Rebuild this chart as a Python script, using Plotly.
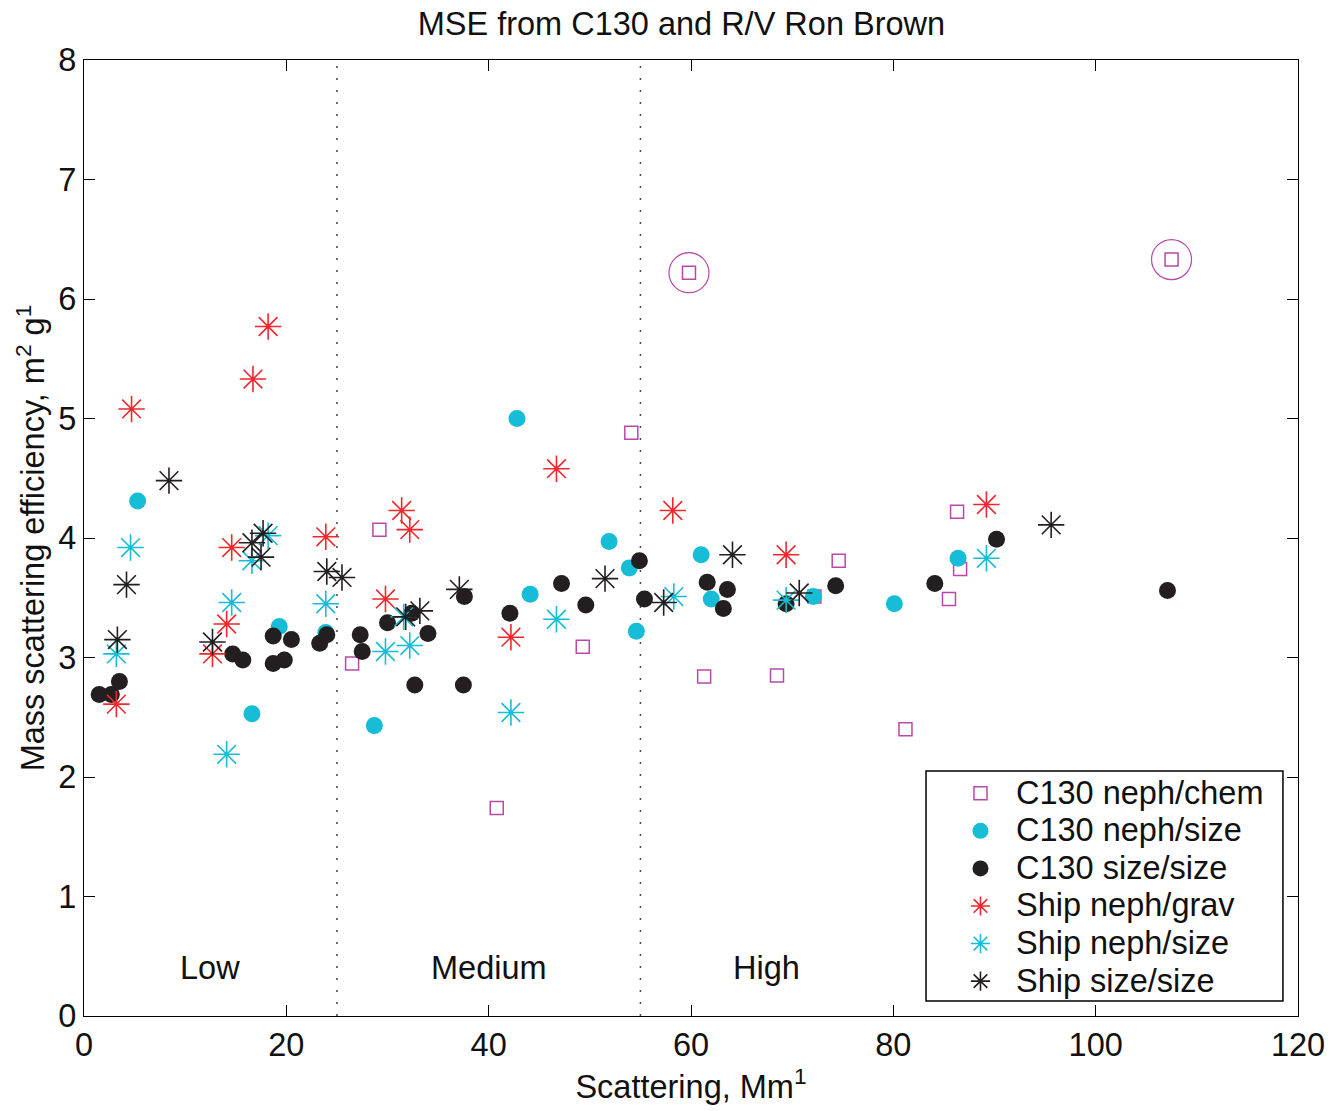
import plotly.graph_objects as go

# C130 neph/chem (open squares)
chem_x = [59.8, 107.5, 54.1, 29.2, 26.5, 40.8, 49.3, 61.3, 68.5, 81.2, 85.5, 86.3, 86.6, 74.6, 72.2]
chem_y = [6.22, 6.33, 4.88, 4.07, 2.95, 1.74, 3.09, 2.84, 2.85, 2.40, 3.49, 4.22, 3.74, 3.81, 3.51]
outlier_idx = [0, 1]

# C130 neph/size (cyan filled circles)
nsz_x = [5.3, 42.8, 16.6, 19.3, 23.9, 28.7, 44.1, 51.9, 53.9, 54.6, 61.0, 62.0, 72.1, 80.1, 86.4]
nsz_y = [4.31, 5.00, 2.53, 3.26, 3.21, 2.43, 3.53, 3.97, 3.75, 3.22, 3.86, 3.49, 3.51, 3.45, 3.83]

# C130 size/size (black filled circles)
ss_x = [1.5, 2.7, 3.5, 14.7, 15.7, 18.7, 20.5, 18.7, 19.8, 23.3, 24.0, 27.3, 27.5, 30.0, 32.4,
        34.0, 32.7, 37.5, 37.6, 42.1, 47.2, 49.6, 54.9, 55.4, 61.6, 63.6, 63.2, 69.4, 74.3, 84.1,
        90.2, 107.1]
ss_y = [2.69, 2.69, 2.80, 3.03, 2.98, 3.18, 3.15, 2.95, 2.98, 3.12, 3.19, 3.19, 3.05, 3.29, 3.37,
        3.20, 2.77, 2.77, 3.51, 3.37, 3.62, 3.44, 3.81, 3.49, 3.63, 3.57, 3.41, 3.45, 3.60, 3.62,
        3.99, 3.56]

# Ship neph/grav (red asterisks)
sg_x = [4.7, 16.7, 18.2, 14.6, 3.2, 14.1, 12.7, 23.9, 31.4, 32.2, 29.8, 42.2, 46.7, 58.2, 69.4, 89.2]
sg_y = [5.08, 5.33, 5.77, 3.92, 2.61, 3.28, 3.03, 4.01, 4.23, 4.07, 3.49, 3.17, 4.58, 4.23, 3.86, 4.28]

# Ship neph/size (cyan asterisks)
sn_x = [4.6, 3.2, 14.6, 14.1, 18.2, 16.6, 23.9, 31.6, 29.8, 32.2, 42.2, 46.7, 58.3, 69.4, 89.2]
sn_y = [3.92, 3.03, 3.46, 2.19, 4.02, 3.81, 3.45, 3.34, 3.05, 3.10, 2.54, 3.32, 3.51, 3.48, 3.83]

# Ship size/size (black asterisks)
sss_x = [8.4, 4.2, 3.3, 12.7, 16.6, 17.7, 17.5, 24.0, 25.5, 31.8, 33.2, 37.1, 51.5, 57.3, 64.1, 70.7, 95.6]
sss_y = [4.48, 3.61, 3.15, 3.13, 3.96, 4.04, 3.84, 3.72, 3.67, 3.34, 3.39, 3.57, 3.66, 3.46, 3.86, 3.54, 4.11]

series_names = ["C130 neph/chem", "C130 neph/size", "C130 size/size",
                "Ship neph/grav", "Ship neph/size", "Ship size/size"]

regime_bounds = [25, 55]
regime_labels = ["Low", "Medium", "High"]
regime_label_x = [12.5, 40, 67.5]
regime_label_y = 0.4

x_ticks = [0, 20, 40, 60, 80, 100, 120]
y_ticks = [0, 1, 2, 3, 4, 5, 6, 7, 8]

MAG = "#b948a8"
CYAN = "#17bcd6"
RED = "#f0282d"
BLK = "#231f20"
TXT = "#111111"
FONT = "Liberation Sans, Arial, Helvetica, sans-serif"
FS = 32.5


def lname(s):
    return '<span style="font-size:%spx">%s</span>' % (FS, s)


fig = go.Figure()

fig.add_trace(go.Scatter(x=chem_x, y=chem_y, mode="markers", name=lname(series_names[0]),
                         marker=dict(symbol="square-open", size=13, color=MAG, line=dict(width=1.5, color=MAG))))
fig.add_trace(go.Scatter(x=nsz_x, y=nsz_y, mode="markers", name=lname(series_names[1]),
                         marker=dict(symbol="circle", size=17, color=CYAN, line=dict(width=0))))
fig.add_trace(go.Scatter(x=ss_x, y=ss_y, mode="markers", name=lname(series_names[2]),
                         marker=dict(symbol="circle", size=17, color=BLK, line=dict(width=0))))
fig.add_trace(go.Scatter(x=sg_x, y=sg_y, mode="markers", name=lname(series_names[3]),
                         marker=dict(symbol="asterisk-open", size=22, color=RED, line=dict(width=1.6, color=RED))))
fig.add_trace(go.Scatter(x=sn_x, y=sn_y, mode="markers", name=lname(series_names[4]),
                         marker=dict(symbol="asterisk-open", size=22, color=CYAN, line=dict(width=1.6, color=CYAN))))
fig.add_trace(go.Scatter(x=sss_x, y=sss_y, mode="markers", name=lname(series_names[5]),
                         marker=dict(symbol="asterisk-open", size=22, color=BLK, line=dict(width=1.6, color=BLK))))
fig.add_trace(go.Scatter(x=[chem_x[i] for i in outlier_idx], y=[chem_y[i] for i in outlier_idx],
                         mode="markers", showlegend=False, hoverinfo="skip",
                         marker=dict(symbol="circle-open", size=40, color=MAG, line=dict(width=1.2, color=MAG))))

for xb in regime_bounds:
    fig.add_shape(type="line", x0=xb, x1=xb, y0=0, y1=8, xref="x", yref="y",
                  line=dict(color="#444444", width=1.5, dash="2px,10px"), layer="below")

for lab, lx in zip(regime_labels, regime_label_x):
    fig.add_annotation(x=lx, y=regime_label_y, text=lab, showarrow=False,
                       font=dict(size=FS, color=TXT, family=FONT))

# legend frame
fig.add_shape(type="rect", xref="paper", yref="paper", x0=0.6936, x1=0.9876, y0=0.0157, y1=0.2563,
              line=dict(color="#000000", width=1.5), fillcolor="white", layer="above")

axis_common = dict(showgrid=False, zeroline=False, showline=True, linecolor="#000000", linewidth=1.2,
                   mirror="ticks", ticks="inside", ticklen=11, tickwidth=1.2, tickcolor="#000000",
                   tickfont=dict(size=FS, color=TXT, family=FONT))

fig.update_layout(
    width=1344, height=1111,
    margin=dict(l=84, r=46, t=60, b=95),
    paper_bgcolor="white", plot_bgcolor="white",
    font=dict(family=FONT, color=TXT),
    title=dict(text="MSE from C130 and R/V Ron Brown", x=0.507, xanchor="center", y=0.979, yanchor="middle",
               font=dict(size=FS, family=FONT, color=TXT)),
    xaxis=dict(range=[0, 120], tickvals=x_ticks, title=dict(text="Scattering, Mm<sup>1</sup>", standoff=10,
               font=dict(size=FS, family=FONT, color=TXT)), **axis_common),
    yaxis=dict(range=[0, 8], tickvals=y_ticks, title=dict(text="Mass scattering efficiency, m<sup>2</sup> g<sup>1</sup>",
               standoff=3, font=dict(size=FS, family=FONT, color=TXT)), **axis_common),
    legend=dict(x=0.7092, y=0.2579, xanchor="left", yanchor="top", bgcolor="rgba(0,0,0,0)",
                borderwidth=0, font=dict(size=26.6, family=FONT, color=TXT),
                itemwidth=61, tracegroupgap=0),
    showlegend=True,
)

fig.write_html("out.html")
